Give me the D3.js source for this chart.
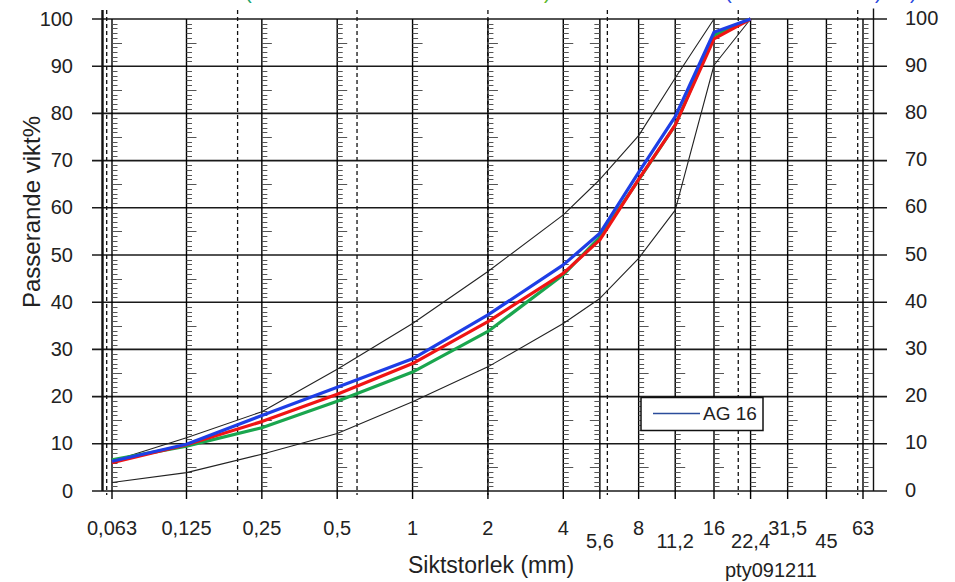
<!DOCTYPE html>
<html>
<head>
<meta charset="utf-8">
<script src="https://cdn.jsdelivr.net/npm/d3@7"></script>
<style>
  html, body { margin: 0; padding: 0; background: #fff; }
  svg { display: block; font-family: "Liberation Sans", Arial, sans-serif; }
</style>
</head>
<body>
<script>
// sieve sizes (mm) and their labels, the lower row of labels is offset down
var sieves = [0.063, 0.125, 0.25, 0.5, 1, 2, 4, 5.6, 8, 11.2, 16, 22.4, 31.5, 45, 63];
var sieveLabels = ["0,063", "0,125", "0,25", "0,5", "1", "2", "4", "5,6", "8", "11,2", "16", "22,4", "31,5", "45", "63"];
var lowRowLabels = ["5,6", "11,2", "22,4", "45"];
var dashedSieves = [0.06, 0.2, 0.6, 2, 6, 20, 60];
var yTicks = [0, 10, 20, 30, 40, 50, 60, 70, 80, 90, 100];

// curves
var curveSizes = [0.063, 0.125, 0.25, 0.5, 1, 2, 4, 5.6, 8, 11.2, 16, 22.4];
var blueVals  = [6.3, 9.9, 16, 22, 28, 37.3, 47.9, 54.6, 67.5, 79.3, 97.2, 100];
var redVals   = [6.0, 9.8, 14.7, 20.5, 27, 35.9, 46.1, 53.2, 66, 77.5, 95.8, 100];
var greenVals = [6.6, 9.5, 13.4, 19, 25.2, 33.8, 45.8, 53.8, 65.9, 77.5, 96.5, 100];
var upperSizes = [0.063, 0.125, 0.25, 0.5, 1, 2, 4, 5.6, 8, 11.2, 16];
var upperVals  = [6.3, 11.3, 16.8, 25.8, 35.5, 46.5, 58.5, 66, 75.3, 87.5, 100];
var lowerVals  = [1.8, 3.9, 7.8, 12.2, 18.9, 26.3, 35.5, 40.8, 49.3, 59.5, 90.2, 100];

var legendLabel = "AG 16";

var width = 955, height = 582;

var svg = d3.select("body").append("svg")
    .attr("width", width)
    .attr("height", height);

var x = d3.scaleLog().base(2).domain([0.063, 63]).range([112, 863]),
    y = d3.scaleLinear().domain([0, 100]).range([491, 19]);

var frameLeft = 102.5, frameRight = 873.5;

// title is cut off by the top edge, only the bottoms of the brackets show
var titleBits = [
  { t: "(", x: 245, c: "#1aa36a" },
  { t: ")", x: 544, c: "#5cb82a" },
  { t: "(", x: 725, c: "#2a4ae0" },
  { t: ")", x: 875, c: "#2a4ae0" },
  { t: ")", x: 910, c: "#2a4ae0" }
];
svg.selectAll("text.title").data(titleBits).enter().append("text")
    .attr("class", "title")
    .attr("x", function(d) { return d.x; })
    .attr("y", -1)
    .attr("font-size", 20)
    .attr("fill", function(d) { return d.c; })
    .text(function(d) { return d.t; });

// horizontal grid
svg.append("g").selectAll("line").data(yTicks).enter().append("line")
    .attr("x1", 92).attr("x2", 887)
    .attr("y1", function(d) { return y(d); })
    .attr("y2", function(d) { return y(d); })
    .attr("stroke", "#1a1a1a")
    .attr("stroke-width", 1.6);

// frame
svg.append("line").attr("x1", frameLeft).attr("x2", frameLeft)
    .attr("y1", 10).attr("y2", y(0)).attr("stroke", "#111").attr("stroke-width", 2.4);
svg.append("line").attr("x1", frameRight).attr("x2", frameRight)
    .attr("y1", 8.5).attr("y2", y(0)).attr("stroke", "#111").attr("stroke-width", 1.4);

// dashed sieve lines
svg.append("g").selectAll("line").data(dashedSieves).enter().append("line")
    .attr("x1", function(d) { return x(d); })
    .attr("x2", function(d) { return x(d); })
    .attr("y1", 10).attr("y2", 495)
    .attr("stroke", "#111")
    .attr("stroke-width", 1.3)
    .attr("stroke-dasharray", "4,3");

// sieve lines with a small ruler on each
var ruler = d3.range(1, 100).filter(function(v) { return v % 10 !== 0; });

var sieveG = svg.append("g").selectAll("g").data(sieves).enter().append("g")
    .attr("transform", function(d) { return "translate(" + x(d) + ",0)"; });

sieveG.append("line")
    .attr("x1", 0).attr("x2", 0)
    .attr("y1", y(100)).attr("y2", 499)
    .attr("stroke", "#000")
    .attr("stroke-width", 1.4);

sieveG.each(function(s) {
  var dir = s === 5.6 ? -1 : 1;
  d3.select(this).selectAll("line.tick").data(ruler).enter().append("line")
      .attr("class", "tick")
      .attr("x1", 0)
      .attr("x2", function(v) { return dir * (v % 5 === 0 ? 10 : 5.5); })
      .attr("y1", function(v) { return Math.round(y(v)) + 0.5; })
      .attr("y2", function(v) { return Math.round(y(v)) + 0.5; })
      .attr("stroke", "#555")
      .attr("stroke-width", 1);
});

// x labels
svg.append("g").selectAll("text").data(sieves).enter().append("text")
    .attr("x", function(d) { return x(d); })
    .attr("y", function(d, i) { return lowRowLabels.indexOf(sieveLabels[i]) >= 0 ? 548 : 535; })
    .attr("text-anchor", "middle")
    .attr("font-size", 20)
    .attr("fill", "#222")
    .text(function(d, i) { return sieveLabels[i]; });

// y labels, left and right
svg.append("g").selectAll("text").data(yTicks).enter().append("text")
    .attr("x", 73)
    .attr("y", function(d) { return y(d) + 6.5; })
    .attr("text-anchor", "end")
    .attr("font-size", 20)
    .attr("fill", "#222")
    .text(function(d) { return d; });

svg.append("g").selectAll("text").data(yTicks).enter().append("text")
    .attr("x", 905)
    .attr("y", function(d) { return y(d) + 5.5; })
    .attr("text-anchor", "start")
    .attr("font-size", 20)
    .attr("fill", "#222")
    .text(function(d) { return d; });

// axis titles
svg.append("text")
    .attr("x", 491).attr("y", 573)
    .attr("text-anchor", "middle")
    .attr("font-size", 23)
    .attr("fill", "#222")
    .text("Siktstorlek (mm)");

svg.append("text")
    .attr("transform", "translate(40,212) rotate(-90)")
    .attr("text-anchor", "middle")
    .attr("font-size", 24)
    .attr("fill", "#222")
    .text("Passerande vikt%");

svg.append("text")
    .attr("x", 725).attr("y", 576.5)
    .attr("font-size", 20)
    .attr("fill", "#222")
    .text("pty091211");

// curves
var line = d3.line()
    .x(function(d) { return x(d[0]); })
    .y(function(d) { return y(d[1]); });

function pairs(sizes, vals) {
  return sizes.map(function(s, i) { return [s, vals[i]]; });
}

var curves = [
  { pts: pairs(upperSizes, upperVals), color: "#222", w: 1.1 },
  { pts: pairs(curveSizes, lowerVals), color: "#222", w: 1.1 },
  { pts: pairs(curveSizes, greenVals), color: "#1aa64e", w: 3.2 },
  { pts: pairs(curveSizes, redVals), color: "#f01414", w: 3.2 },
  { pts: pairs(curveSizes, blueVals), color: "#1e3ee6", w: 3.2 }
];

svg.append("g").selectAll("path").data(curves).enter().append("path")
    .attr("d", function(d) { return line(d.pts); })
    .attr("fill", "none")
    .attr("stroke", function(d) { return d.color; })
    .attr("stroke-width", function(d) { return d.w; })
    .attr("stroke-linejoin", "round");

// legend
var legend = svg.append("g").attr("transform", "translate(641,397.5)");
legend.append("rect")
    .attr("width", 122).attr("height", 33)
    .attr("fill", "#fff")
    .attr("stroke", "#111")
    .attr("stroke-width", 1.5);
legend.append("line")
    .attr("x1", 12).attr("x2", 59)
    .attr("y1", 16).attr("y2", 16)
    .attr("stroke", "#2b4c9b")
    .attr("stroke-width", 1.5);
legend.append("text")
    .attr("x", 62).attr("y", 22.5)
    .attr("font-size", 19)
    .attr("fill", "#222")
    .text(legendLabel);
</script>
</body>
</html>
